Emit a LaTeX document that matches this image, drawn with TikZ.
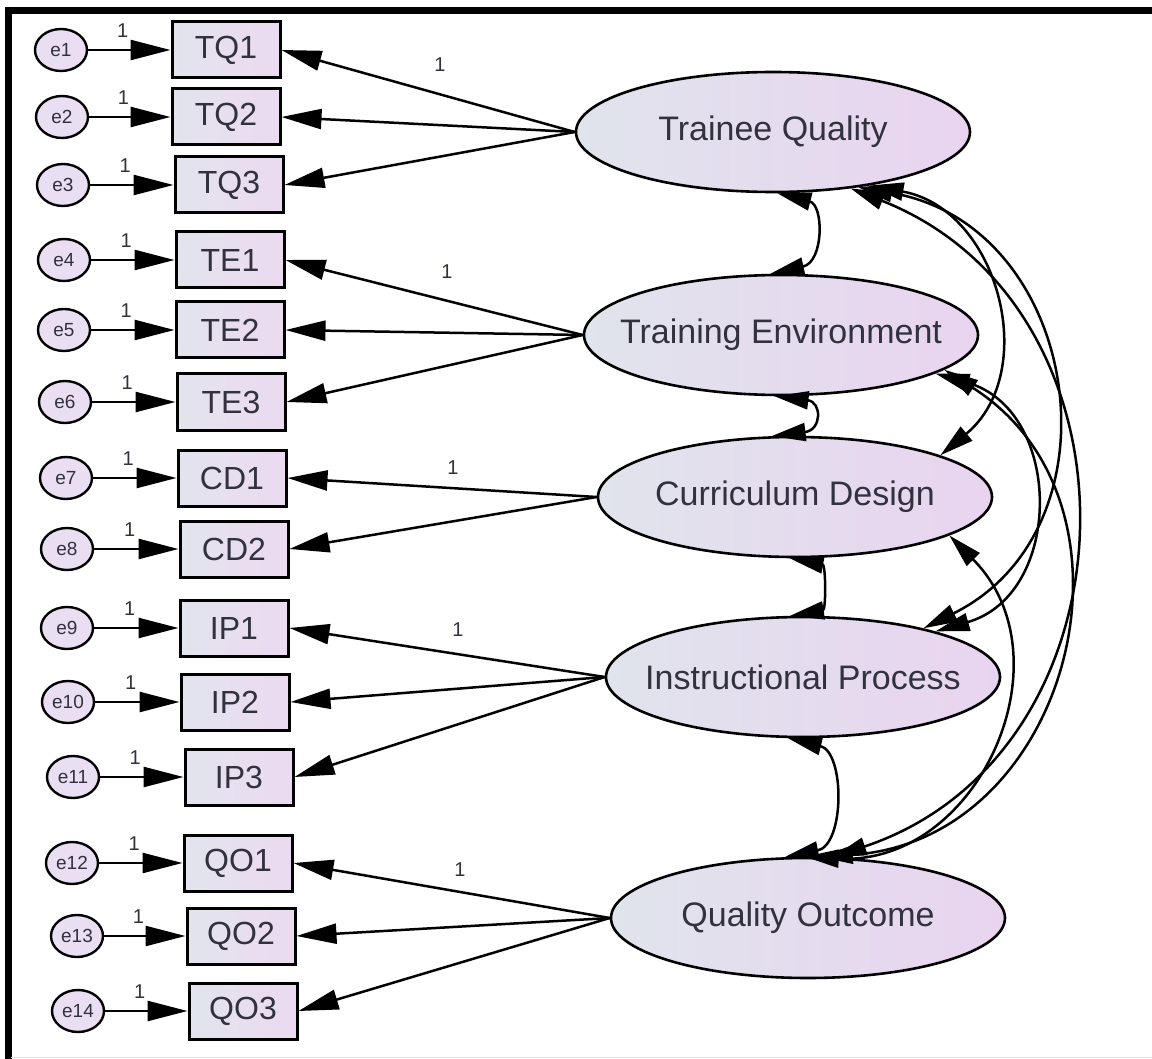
\documentclass[tikz,border=0pt]{standalone}
\usepackage{fontspec}
\setmainfont{Liberation Sans}
\usetikzlibrary{shapes.geometric,arrows.meta}
\definecolor{latL}{RGB}{224,228,236}
\definecolor{latR}{RGB}{233,212,240}
\definecolor{boxL}{RGB}{226,228,238}
\definecolor{boxR}{RGB}{236,218,240}
\definecolor{errC}{RGB}{234,222,242}
\definecolor{txt}{RGB}{50,50,62}
\begin{document}
\begin{tikzpicture}[x=1pt,y=-1pt,
  latent/.style={ellipse,draw=black,line width=2.6pt,left color=latL,right color=latR,minimum width=394pt,minimum height=120pt,inner xsep=-40pt,inner ysep=0pt,font=\fontsize{34}{36}\selectfont,text=txt},
  obs/.style={rectangle,draw=black,line width=3pt,left color=boxL,right color=boxR,minimum width=108pt,minimum height=56pt,inner sep=0pt,font=\fontsize{32}{36}\selectfont,text=txt},
  err/.style={ellipse,draw=black,line width=2.4pt,fill=errC,minimum width=52pt,minimum height=42pt,inner sep=0pt,font=\fontsize{19}{20}\selectfont,text=txt},
  load/.style={line width=2.5pt,-{Triangle[length=40pt,width=20pt]}},
  cov/.style={line width=2.5pt,{Triangle[length=34pt,width=18pt]}-{Triangle[length=34pt,width=18pt]}},
  one/.style={font=\fontsize{20}{22}\selectfont,text=txt,inner sep=0pt},
  eone/.style={one,pos=0.42,anchor=south,yshift=11pt}
]
\fill[white] (0,0) rectangle (1152,1059);
\useasboundingbox (0,0) rectangle (1152,1059);
\draw[line width=6.5pt] (5,10.5) -- (1152,10.5);
\draw[line width=6.5pt] (8.5,7.5) -- (8.5,1059);
\draw[black!12,line width=1.5pt] (11,1057.5) -- (1152,1057.5);

% latent variables
\node[latent] (TQ) at (773,132) {Trainee Quality};
\node[latent] (TE) at (781,335) {Training Environment};
\node[latent] (CD) at (795,497) {Curriculum Design};
\node[latent] (IP) at (803,677) {Instructional Process};
\node[latent] (QO) at (808,918) {Quality Outcome};

% observed variables
\node[obs] (TQ1) at (226,50) {TQ1};
\node[obs] (TQ2) at (226,117) {TQ2};
\node[obs] (TQ3) at (229,185) {TQ3};
\node[obs] (TE1) at (230,260) {TE1};
\node[obs] (TE2) at (230,330) {TE2};
\node[obs] (TE3) at (231,402) {TE3};
\node[obs] (CD1) at (232,478) {CD1};
\node[obs] (CD2) at (234,549) {CD2};
\node[obs] (IP1) at (234,628) {IP1};
\node[obs] (IP2) at (235,702) {IP2};
\node[obs] (IP3) at (239,777) {IP3};
\node[obs] (QO1) at (238,863) {QO1};
\node[obs] (QO2) at (241,936) {QO2};
\node[obs] (QO3) at (243,1011) {QO3};

% error terms
\node[err] (e1) at (61,50) {e1};
\node[err] (e2) at (62,117) {e2};
\node[err] (e3) at (63,185) {e3};
\node[err] (e4) at (64,260) {e4};
\node[err] (e5) at (64,330) {e5};
\node[err] (e6) at (65,402) {e6};
\node[err] (e7) at (66,478) {e7};
\node[err] (e8) at (67,549) {e8};
\node[err] (e9) at (67,628) {e9};
\node[err] (e10) at (68,702) {e10};
\node[err] (e11) at (73,777) {e11};
\node[err] (e12) at (72,863) {e12};
\node[err] (e13) at (77,936) {e13};
\node[err] (e14) at (78,1011) {e14};

% error paths
\draw[load] (e1) -- (TQ1) node[eone] (w1) {1};
\draw[load] (e2) -- (TQ2) node[eone] (w2) {1};
\draw[load] (e3) -- (TQ3) node[eone] (w3) {1};
\draw[load] (e4) -- (TE1) node[eone] (w4) {1};
\draw[load] (e5) -- (TE2) node[eone] (w5) {1};
\draw[load] (e6) -- (TE3) node[eone] (w6) {1};
\draw[load] (e7) -- (CD1) node[eone] (w7) {1};
\draw[load] (e8) -- (CD2) node[eone] (w8) {1};
\draw[load] (e9) -- (IP1) node[eone] (w9) {1};
\draw[load] (e10) -- (IP2) node[eone] (w10) {1};
\draw[load] (e11) -- (IP3) node[eone] (w11) {1};
\draw[load] (e12) -- (QO1) node[eone] (w12) {1};
\draw[load] (e13) -- (QO2) node[eone] (w13) {1};
\draw[load] (e14) -- (QO3) node[eone] (w14) {1};

% loadings
\draw[load] (TQ.west) -- (TQ1.east);
\draw[load] (TQ.west) -- (TQ2.east);
\draw[load] (TQ.west) -- (TQ3.east);
\draw[load] (TE.west) -- (TE1.east);
\draw[load] (TE.west) -- (TE2.east);
\draw[load] (TE.west) -- (TE3.east);
\draw[load] (CD.west) -- (CD1.east);
\draw[load] (CD.west) -- (CD2.east);
\draw[load] (IP.west) -- (IP1.east);
\draw[load] (IP.west) -- (IP2.east);
\draw[load] (IP.west) -- (IP3.east);
\draw[load] (QO.west) -- (QO1.east);
\draw[load] (QO.west) -- (QO2.east);
\draw[load] (QO.west) -- (QO3.east);
\node[one] (lTQ) at (440,65) {1};
\node[one] (lTE) at (447,272) {1};
\node[one] (lCD) at (453,468) {1};
\node[one] (lIP) at (458,630) {1};
\node[one] (lQO) at (460,870) {1};

% covariances between neighbours
\draw[cov] (TQ.-86) .. controls (824,205) and (824,262) .. (TE.100);
\draw[cov] (TE.-96) .. controls (822,402) and (822,430) .. (CD.111);
\draw[cov] (CD.-95) .. controls (826,565) and (826,610) .. (IP.102);
\draw[cov] (IP.-104) .. controls (845,752) and (845,845) .. (QO.111);

% long covariances
\draw[cov] (TQ.-29) to[bend left=65,looseness=1.2] (CD.16);
\draw[cov] (TQ.-33) to[bend left=72,looseness=1.3] (IP.22);
\draw[cov] (TQ.-36) to[bend left=70,looseness=1.25] (QO.68);
\draw[cov] (TE.-14) to[bend left=74,looseness=1.33] (IP.19);
\draw[cov] (TE.-12) to[bend left=72,looseness=1.28] (QO.80);
\draw[cov] (CD.-14) to[bend left=69,looseness=1.26] (QO.93);
\end{tikzpicture}
\end{document}
